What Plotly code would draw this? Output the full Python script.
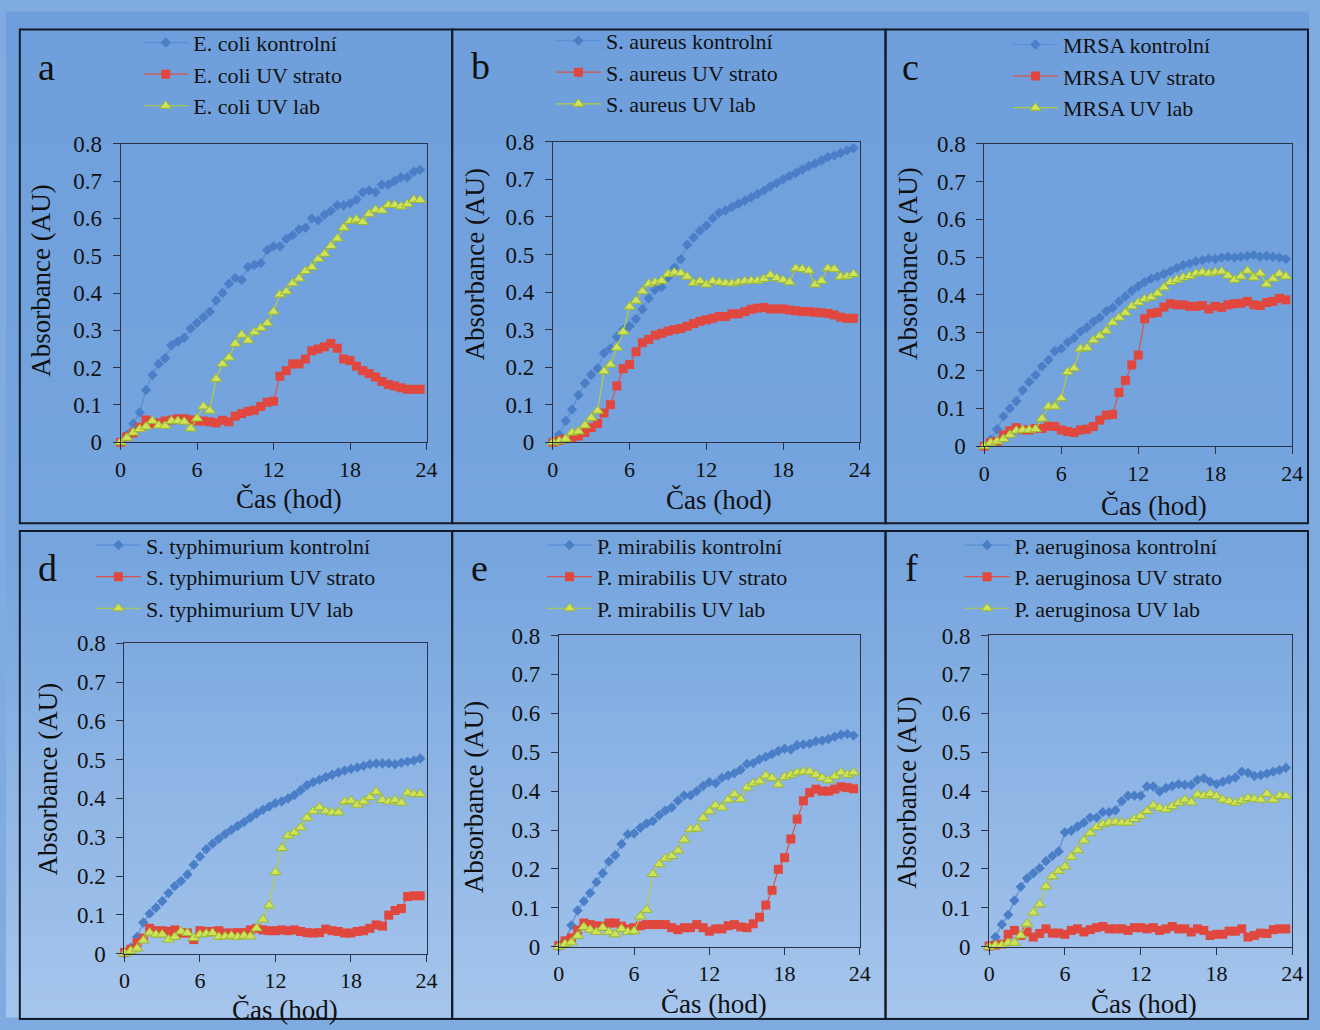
import plotly.graph_objects as go

# ---------------- data ----------------
time_h = [0, 0.5, 1, 1.5, 2, 2.5, 3, 3.5, 4, 4.5, 5, 5.5, 6, 6.5, 7, 7.5, 8, 8.5, 9, 9.5,
          10, 10.5, 11, 11.5, 12, 12.5, 13, 13.5, 14, 14.5, 15, 15.5, 16, 16.5, 17, 17.5,
          18, 18.5, 19, 19.5, 20, 20.5, 21, 21.5, 22, 22.5, 23, 23.5]

x_ticks = [0, 6, 12, 18, 24]
x_tick_text = ["0", "6", "12", "18", "24"]
y_ticks = [0, 0.1, 0.2, 0.3, 0.4, 0.5, 0.6, 0.7, 0.8]
y_tick_text = ["0", "0.1", "0.2", "0.3", "0.4", "0.5", "0.6", "0.7", "0.8"]

ecoli_ctrl = [0, 0.02, 0.05, 0.08, 0.14, 0.18, 0.21, 0.225, 0.26, 0.27, 0.28, 0.305, 0.32, 0.335, 0.35, 0.38,
              0.40, 0.425, 0.44, 0.435, 0.47, 0.475, 0.48, 0.515, 0.525, 0.525, 0.545, 0.555, 0.57, 0.575,
              0.60, 0.595, 0.61, 0.62, 0.635, 0.635, 0.64, 0.65, 0.67, 0.675, 0.67, 0.69, 0.69, 0.70, 0.71,
              0.71, 0.725, 0.73]
ecoli_strato = [0, 0.015, 0.025, 0.04, 0.06, 0.05, 0.052, 0.057, 0.06, 0.063, 0.063, 0.06, 0.057, 0.057, 0.055,
                0.052, 0.059, 0.055, 0.07, 0.077, 0.083, 0.086, 0.096, 0.107, 0.11, 0.177, 0.192, 0.21, 0.21,
                0.223, 0.245, 0.25, 0.256, 0.265, 0.252, 0.223, 0.219, 0.204, 0.192, 0.184, 0.175, 0.163,
                0.155, 0.151, 0.146, 0.142, 0.142, 0.142]
ecoli_lab = [0, 0.012, 0.026, 0.035, 0.042, 0.057, 0.045, 0.044, 0.057, 0.057, 0.055, 0.037, 0.064, 0.096, 0.085,
             0.17, 0.21, 0.227, 0.264, 0.288, 0.273, 0.295, 0.306, 0.319, 0.35, 0.396, 0.404, 0.426, 0.439,
             0.459, 0.469, 0.491, 0.505, 0.526, 0.546, 0.575, 0.593, 0.597, 0.59, 0.612, 0.623, 0.621, 0.636,
             0.636, 0.632, 0.638, 0.65, 0.649]

saureus_ctrl = [0, 0.02, 0.057, 0.087, 0.126, 0.157, 0.18, 0.197, 0.237, 0.25, 0.281, 0.3, 0.309, 0.328, 0.354,
                0.383, 0.406, 0.413, 0.439, 0.465, 0.487, 0.526, 0.545, 0.563, 0.577, 0.596, 0.611, 0.617,
                0.626, 0.635, 0.643, 0.652, 0.661, 0.67, 0.681, 0.69, 0.7, 0.709, 0.717, 0.726, 0.735, 0.742,
                0.75, 0.759, 0.763, 0.77, 0.777, 0.783]
saureus_strato = [0, 0.005, 0.009, 0.011, 0.017, 0.026, 0.039, 0.05, 0.078, 0.1, 0.15, 0.196, 0.207, 0.241,
                  0.265, 0.274, 0.285, 0.29, 0.296, 0.3, 0.303, 0.309, 0.316, 0.322, 0.326, 0.33, 0.335, 0.335,
                  0.342, 0.342, 0.348, 0.354, 0.357, 0.359, 0.355, 0.355, 0.355, 0.352, 0.35, 0.348, 0.348,
                  0.346, 0.345, 0.343, 0.339, 0.333, 0.33, 0.33]
saureus_lab = [0, 0.003, 0.009, 0.026, 0.029, 0.045, 0.065, 0.084, 0.189, 0.207, 0.252, 0.294, 0.361, 0.377,
               0.402, 0.422, 0.426, 0.43, 0.448, 0.452, 0.45, 0.441, 0.424, 0.429, 0.42, 0.429, 0.426, 0.424,
               0.423, 0.426, 0.429, 0.43, 0.43, 0.435, 0.445, 0.437, 0.432, 0.426, 0.463, 0.461, 0.457, 0.42,
               0.43, 0.463, 0.461, 0.441, 0.442, 0.448]

mrsa_ctrl = [0, 0.017, 0.045, 0.079, 0.1, 0.119, 0.148, 0.17, 0.188, 0.211, 0.228, 0.251, 0.258, 0.275, 0.286,
             0.303, 0.314, 0.329, 0.34, 0.357, 0.366, 0.383, 0.396, 0.411, 0.423, 0.434, 0.443, 0.449, 0.456,
             0.463, 0.471, 0.479, 0.483, 0.489, 0.492, 0.496, 0.495, 0.499, 0.501, 0.499, 0.501, 0.503, 0.506,
             0.501, 0.503, 0.501, 0.499, 0.495]
mrsa_strato = [0, 0.01, 0.013, 0.03, 0.041, 0.049, 0.043, 0.043, 0.047, 0.047, 0.053, 0.052, 0.043, 0.039, 0.036,
               0.043, 0.045, 0.052, 0.069, 0.082, 0.084, 0.142, 0.174, 0.215, 0.241, 0.337, 0.351, 0.354, 0.368,
               0.377, 0.374, 0.374, 0.37, 0.37, 0.372, 0.363, 0.37, 0.367, 0.374, 0.377, 0.378, 0.383, 0.374,
               0.372, 0.38, 0.383, 0.391, 0.387]
mrsa_lab = [0, 0.009, 0.013, 0.019, 0.03, 0.041, 0.043, 0.043, 0.045, 0.073, 0.105, 0.105, 0.127, 0.196, 0.206,
            0.258, 0.26, 0.28, 0.292, 0.305, 0.327, 0.34, 0.353, 0.37, 0.38, 0.389, 0.394, 0.404, 0.42, 0.434,
            0.44, 0.446, 0.45, 0.457, 0.46, 0.457, 0.46, 0.462, 0.451, 0.44, 0.449, 0.464, 0.446, 0.457, 0.428,
            0.443, 0.456, 0.449]

styph_ctrl = [0, 0.015, 0.043, 0.08, 0.103, 0.118, 0.135, 0.156, 0.174, 0.187, 0.204, 0.229, 0.25, 0.269,
              0.283, 0.296, 0.308, 0.319, 0.329, 0.339, 0.35, 0.361, 0.371, 0.379, 0.388, 0.392, 0.4, 0.409,
              0.421, 0.434, 0.442, 0.448, 0.455, 0.461, 0.467, 0.472, 0.476, 0.48, 0.484, 0.488, 0.49, 0.49,
              0.49, 0.488, 0.492, 0.495, 0.498, 0.503]
styph_strato = [0.003, 0.011, 0.028, 0.04, 0.065, 0.059, 0.059, 0.057, 0.061, 0.053, 0.053, 0.036, 0.059,
                0.057, 0.057, 0.059, 0.053, 0.053, 0.054, 0.054, 0.061, 0.065, 0.061, 0.059, 0.059, 0.061,
                0.059, 0.061, 0.057, 0.054, 0.053, 0.054, 0.063, 0.059, 0.057, 0.053, 0.053, 0.057, 0.059,
                0.065, 0.074, 0.071, 0.099, 0.111, 0.116, 0.147, 0.149, 0.149]
styph_lab = [0, 0.007, 0.013, 0.034, 0.054, 0.049, 0.049, 0.036, 0.043, 0.057, 0.053, 0.04, 0.049, 0.051,
             0.053, 0.043, 0.044, 0.046, 0.043, 0.046, 0.044, 0.065, 0.088, 0.124, 0.21, 0.272, 0.304, 0.312,
             0.325, 0.35, 0.367, 0.377, 0.367, 0.364, 0.364, 0.392, 0.394, 0.384, 0.392, 0.403, 0.417, 0.396,
             0.392, 0.396, 0.389, 0.415, 0.411, 0.411]

pmir_ctrl = [0, 0.015, 0.055, 0.093, 0.117, 0.138, 0.166, 0.189, 0.219, 0.235, 0.264, 0.289, 0.291, 0.306,
             0.317, 0.323, 0.338, 0.35, 0.358, 0.375, 0.389, 0.389, 0.4, 0.413, 0.423, 0.42, 0.434, 0.44, 0.446,
             0.455, 0.47, 0.472, 0.482, 0.488, 0.495, 0.503, 0.509, 0.507, 0.518, 0.52, 0.522, 0.528, 0.53,
             0.534, 0.54, 0.545, 0.547, 0.543]
pmir_strato = [0.003, 0.015, 0.023, 0.043, 0.061, 0.057, 0.054, 0.053, 0.061, 0.061, 0.053, 0.046, 0.049,
               0.054, 0.057, 0.057, 0.057, 0.057, 0.049, 0.044, 0.049, 0.049, 0.057, 0.049, 0.04, 0.046, 0.046,
               0.054, 0.057, 0.051, 0.049, 0.059, 0.076, 0.107, 0.145, 0.199, 0.229, 0.277, 0.328, 0.375,
               0.396, 0.405, 0.4, 0.4, 0.405, 0.411, 0.409, 0.406]
pmir_lab = [0, 0.007, 0.011, 0.028, 0.051, 0.044, 0.038, 0.049, 0.038, 0.032, 0.046, 0.038, 0.04, 0.078, 0.095,
            0.187, 0.212, 0.227, 0.233, 0.247, 0.275, 0.302, 0.304, 0.331, 0.348, 0.363, 0.358, 0.378, 0.392,
            0.379, 0.409, 0.42, 0.425, 0.44, 0.434, 0.417, 0.437, 0.442, 0.448, 0.45, 0.45, 0.442, 0.434,
            0.428, 0.438, 0.448, 0.442, 0.448]

paer_ctrl = [0, 0.025, 0.057, 0.082, 0.119, 0.154, 0.176, 0.189, 0.202, 0.22, 0.233, 0.245, 0.294, 0.298,
             0.309, 0.319, 0.332, 0.332, 0.346, 0.346, 0.351, 0.374, 0.388, 0.388, 0.388, 0.412, 0.412, 0.399,
             0.408, 0.413, 0.418, 0.416, 0.416, 0.429, 0.433, 0.424, 0.418, 0.424, 0.43, 0.435, 0.45, 0.447,
             0.439, 0.441, 0.445, 0.45, 0.454, 0.46]
paer_strato = [0.002, 0.004, 0.007, 0.032, 0.042, 0.029, 0.038, 0.025, 0.034, 0.046, 0.035, 0.035, 0.032,
               0.042, 0.046, 0.038, 0.044, 0.049, 0.052, 0.046, 0.046, 0.046, 0.042, 0.049, 0.049, 0.046,
               0.049, 0.042, 0.046, 0.052, 0.046, 0.046, 0.038, 0.046, 0.042, 0.029, 0.032, 0.032, 0.04, 0.04,
               0.046, 0.025, 0.029, 0.035, 0.034, 0.044, 0.046, 0.046]
paer_lab = [0, 0.004, 0.004, 0.01, 0.01, 0.029, 0.059, 0.088, 0.109, 0.155, 0.181, 0.195, 0.206, 0.231, 0.248,
            0.273, 0.292, 0.307, 0.315, 0.319, 0.321, 0.319, 0.319, 0.328, 0.336, 0.349, 0.363, 0.357, 0.353,
            0.361, 0.37, 0.378, 0.371, 0.391, 0.388, 0.393, 0.387, 0.378, 0.374, 0.37, 0.376, 0.382, 0.38,
            0.378, 0.393, 0.378, 0.388, 0.387]

panel_letters = ["a", "b", "c", "d", "e", "f"]
organisms = ["E. coli", "S. aureus", "MRSA", "S. typhimurium", "P. mirabilis", "P. aeruginosa"]
condition_suffix = ["kontrolní", "UV strato", "UV lab"]
panel_series = [
    [ecoli_ctrl, ecoli_strato, ecoli_lab],
    [saureus_ctrl, saureus_strato, saureus_lab],
    [mrsa_ctrl, mrsa_strato, mrsa_lab],
    [styph_ctrl, styph_strato, styph_lab],
    [pmir_ctrl, pmir_strato, pmir_lab],
    [paer_ctrl, paer_strato, paer_lab],
]
x_title = "Čas (hod)"
y_title = "Absorbance (AU)"

# ---------------- layout geometry (pixels) ----------------
W, H = 1320, 1030
FONT = "Liberation Serif"

# plot boxes: (left, right, top, bottom)
boxes = [(116, 426, 135, 441), (554, 865, 133, 441), (991, 1303, 135, 445),
         (120, 426, 647, 965), (560, 865, 639, 958), (996, 1303, 639, 958)]
# legend anchor (left, top)
legend_pos = [(134, 10), (552, 8), (1015, 12), (86, 525), (543, 525), (966, 525)]
letter_pos = [(41, 56), (481, 55), (916, 56), (42, 570), (480, 570), (917, 570)]
ytitle_pos = [(36, 275), (475, 258), (913, 258), (42, 786), (475, 804), (912, 800)]
xtitle_pos = [(287, 499), (722, 500), (1163, 506), (283, 1023), (717, 1017), (1153, 1017)]
panel_frames = [(14, 452, 18, 524), (452, 891, 18, 524), (891, 1319, 18, 524),
                (14, 452, 532, 1032), (452, 891, 532, 1032), (891, 1319, 532, 1032)]

styles = [
    dict(line=dict(color="#5a8ed3", width=1.2),
         marker=dict(symbol="diamond", size=8, color="#4a7fc8", line=dict(width=0))),
    dict(line=dict(color="#d9534c", width=1.2),
         marker=dict(symbol="square", size=9, color="#e0483f", line=dict(width=0))),
    dict(line=dict(color="#b5cc3c", width=1.2),
         marker=dict(symbol="triangle-up", size=10, color="#cfe25a", line=dict(width=1, color="#9ab832"))),
]

def fx(px):
    return px / W

def fy(py):
    return 1 - py / H

fig = go.Figure()
layout = dict(width=W, height=H, margin=dict(l=0, r=0, t=0, b=0),
              paper_bgcolor="#80abe0", plot_bgcolor="rgba(0,0,0,0)",
              font=dict(family=FONT, color="#111111"))
shapes = []
annotations = []

# background vertical gradient as thin bands
stops = [(0, (110, 159, 220)), (560, (118, 165, 222)), (1030, (166, 197, 236))]
n_bands = 103
for i in range(n_bands):
    y0 = i * H / n_bands
    y1 = (i + 1) * H / n_bands
    ym = (y0 + y1) / 2
    for (a_y, a_c), (b_y, b_c) in zip(stops[:-1], stops[1:]):
        if a_y <= ym <= b_y:
            t = (ym - a_y) / (b_y - a_y)
            c = tuple(int(round(a_c[k] + (b_c[k] - a_c[k]) * t)) for k in range(3))
            break
    shapes.append(dict(type="rect", xref="paper", yref="paper", x0=0, x1=1,
                       y0=fy(y1) - 0.0005, y1=fy(y0) + 0.0005, fillcolor="rgb(%d,%d,%d)" % c,
                       line=dict(width=0), layer="below"))

axc = "#2b3346"
tick_font = dict(family=FONT, size=22, color="#111111")
for p in range(6):
    s = "" if p == 0 else str(p + 1)
    l, r, t, b = boxes[p]
    for k in range(3):
        fig.add_trace(go.Scatter(
            x=time_h, y=panel_series[p][k], mode="lines+markers",
            name=organisms[p] + " " + condition_suffix[k],
            xaxis="x" + s, yaxis="y" + s, legend="legend" + s,
            cliponaxis=False, **styles[k]))
    layout["xaxis" + s] = dict(domain=[fx(l), fx(r)], range=[0, 24], anchor="y" + s,
                               tickmode="array", tickvals=x_ticks, ticktext=x_tick_text,
                               ticks="outside", ticklen=7, tickcolor=axc, tickwidth=1,
                               showline=True, linecolor=axc, linewidth=1, mirror=True,
                               showgrid=False, zeroline=False, tickfont=tick_font)
    layout["yaxis" + s] = dict(domain=[fy(b), fy(t)], range=[0, 0.8], anchor="x" + s,
                               tickmode="array", tickvals=y_ticks, ticktext=y_tick_text,
                               ticks="outside", ticklen=7, tickcolor=axc, tickwidth=1,
                               ticklabelstandoff=6,
                               showline=True, linecolor=axc, linewidth=1, mirror=True,
                               showgrid=False, zeroline=False,
                               tickfont=dict(family=FONT, size=23, color="#111111"))
    lx, ly = legend_pos[p]
    layout["legend" + s] = dict(x=fx(lx), y=fy(ly), xanchor="left", yanchor="top",
                                xref="paper", yref="paper",
                                bgcolor="rgba(0,0,0,0)", borderwidth=0, itemwidth=45,
                                tracegroupgap=0, font=dict(family=FONT, size=22, color="#111111"))
    fl, fr, ft, fb = panel_frames[p]
    shapes.append(dict(type="rect", xref="paper", yref="paper", x0=fx(fl), x1=fx(fr),
                       y0=fy(fb), y1=fy(ft), line=dict(color="#141a26", width=2),
                       fillcolor="rgba(0,0,0,0)", layer="above"))
    ax, ay = letter_pos[p]
    annotations.append(dict(text=panel_letters[p], x=fx(ax), y=fy(ay), xref="paper", yref="paper",
                            showarrow=False, xanchor="center", yanchor="middle",
                            font=dict(family=FONT, size=38, color="#111111")))
    tx, ty = ytitle_pos[p]
    annotations.append(dict(text=y_title, x=fx(tx), y=fy(ty), xref="paper", yref="paper",
                            showarrow=False, textangle=-90, xanchor="center", yanchor="middle",
                            font=dict(family=FONT, size=27, color="#111111")))
    tx, ty = xtitle_pos[p]
    annotations.append(dict(text=x_title, x=fx(tx), y=fy(ty), xref="paper", yref="paper",
                            showarrow=False, xanchor="center", yanchor="middle",
                            font=dict(family=FONT, size=27, color="#111111")))

layout["shapes"] = shapes
layout["annotations"] = annotations
layout["showlegend"] = True
fig.update_layout(**layout)

page_fix = (
    "document.documentElement.style.margin='0';document.documentElement.style.padding='0';"
    "document.documentElement.style.overflow='hidden';"
    "document.body.style.margin='0';document.body.style.padding='0';document.body.style.overflow='hidden';"
    "document.body.style.background='#80abe0';"
    "var gd=document.getElementsByClassName('plotly-graph-div')[0];"
    "gd.style.position='fixed';gd.style.left='0px';gd.style.top='0px';"
)
fig.write_html("out.html", config={"displayModeBar": False, "responsive": False},
               post_script=page_fix)
